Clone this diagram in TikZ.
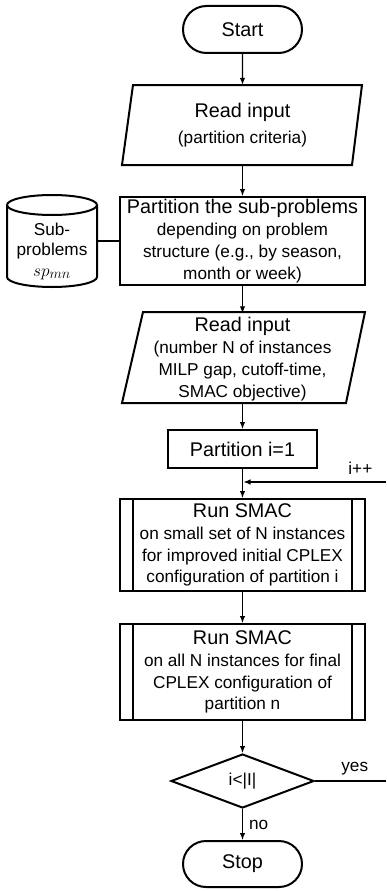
\documentclass[tikz,border=0pt]{standalone}
\usepackage{fontspec}
\setmainfont{Liberation Sans}
\usetikzlibrary{arrows.meta,shapes.geometric,shapes.misc}
\newcommand{\titlefnt}{\fontsize{19.8}{23.5}\selectfont}
\newcommand{\subfnt}{\fontsize{17.2}{21.8}\selectfont}
\newcommand{\cylfnt}{\fontsize{17.2}{20.5}\selectfont}
\begin{document}
\begin{tikzpicture}[x=1pt,y=-1pt,
  shp/.style={draw, line width=2pt},
  txt/.style={inner sep=0pt, align=center, font=\subfnt},
  arr/.style={line width=1.1pt, -{Latex[length=7pt,width=5.5pt]}},
  ln/.style={line width=1.1pt},
  lbl/.style={inner sep=0pt, font=\subfnt}]
\useasboundingbox (0,0) rectangle (386,891);
% Start
\node[shp, rounded rectangle, minimum width=119pt, minimum height=47pt, inner sep=0pt, font=\titlefnt] (start) at (242.5,29.5) {Start};
% Read input 1
\draw[shp] (133,85) -- (362,85) -- (352,165) -- (122,165) -- cycle;
\node[txt, minimum width=240pt, minimum height=80pt] (read1) at (242.5,125) {{\titlefnt Read input}\\[4pt](partition criteria)};
% Partition box
\node[shp, txt, minimum width=245pt, minimum height=88pt] (part) at (242.5,241) {{\titlefnt Partition the sub-problems}\\depending on problem\\structure (e.g., by season,\\month or week)};
% Cylinder
\draw[shp] (7,205) -- (7,277) arc[start angle=180, end angle=0, x radius=45, y radius=10] -- (97,205);
\draw[shp] (52,205) ellipse[x radius=45, y radius=10];
\node[txt, font=\cylfnt, minimum width=90pt] (sub) at (52,251) {Sub-\\problems\\{\fontsize{19}{20.5}\selectfont$sp_{mn}$}};
% Read input 2
\draw[shp] (143,312) -- (365,312) -- (346,403) -- (122,403) -- cycle;
\node[txt, minimum width=243pt, minimum height=91pt] (read2) at (242.5,359) {{\titlefnt Read input}\\(number N of instances\\MILP gap, cutoff-time,\\SMAC objective)};
% Partition i=1
\node[shp, txt, font=\titlefnt, minimum width=149pt, minimum height=38pt] (pi) at (242.5,449) {Partition i=1};
% SMAC 1
\node[shp, txt, minimum width=245pt, minimum height=92pt] (smac1) at (242.5,545) {{\titlefnt Run SMAC}\\on small set of N instances\\for improved initial CPLEX\\configuration of partition i};
\draw[shp] (133,498) -- (133,592) (352,498) -- (352,592);
% SMAC 2
\node[shp, txt, minimum width=245pt, minimum height=96pt] (smac2) at (242.5,672) {{\titlefnt Run SMAC}\\on all N instances for final\\CPLEX configuration of\\partition n};
\draw[shp] (133,623) -- (133,721) (352,623) -- (352,721);
% Diamond
\node[shp, diamond, aspect=2.6, minimum width=143pt, minimum height=54pt, inner sep=0pt, font=\subfnt] (dec) at (242.5,781) {i<|I|};
% Stop
\node[shp, rounded rectangle, minimum width=119pt, minimum height=46pt, inner sep=0pt, font=\titlefnt] (stop) at (242.5,864) {Stop};
% connectors
\coordinate (cyl) at (97,241);
\draw[arr] (start) -- (read1);
\draw[arr] (read1) -- (part);
\draw[ln] (cyl) -- (part.west);
\draw[arr] (part) -- (read2);
\draw[arr] (read2.south |- 0,403) -- (pi);
\draw[arr] (pi) -- (smac1);
\draw[arr] (smac1) -- (smac2);
\draw[arr] (smac2) -- (dec);
\draw[arr] (dec) -- (stop) node[lbl, midway, right=6pt] {no};
\coordinate (yesend) at (386,781);
\coordinate (iin) at (386,482);
\draw[ln] (dec.east) -- (yesend) node[lbl, pos=0.56, above=5pt] {yes};
\draw[arr] (iin) -- ([xshift=1pt]iin -| pi.south) node[lbl, pos=0.18, above=7pt] {i++};
\end{tikzpicture}
\end{document}
